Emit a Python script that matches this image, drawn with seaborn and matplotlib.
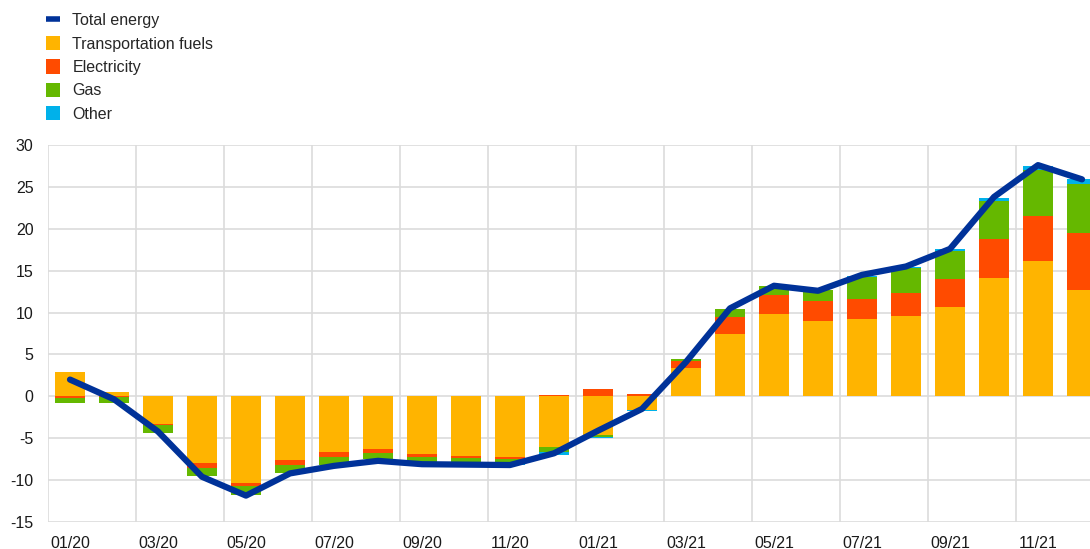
import numpy as np
import pandas as pd
import matplotlib
matplotlib.use("Agg")
import matplotlib.pyplot as plt
from matplotlib.patches import Patch
from matplotlib.lines import Line2D
import seaborn as sns

months = ["01/20", "02/20", "03/20", "04/20", "05/20", "06/20", "07/20", "08/20",
          "09/20", "10/20", "11/20", "12/20", "01/21", "02/21", "03/21", "04/21",
          "05/21", "06/21", "07/21", "08/21", "09/21", "10/21", "11/21", "12/21"]
transport = [2.9, 0.57, -3.3, -8.0, -10.3, -7.6, -6.6, -6.3, -6.9, -7.1, -7.3, -6.1,
             -4.6, -1.6, 3.35, 7.4, 9.8, 9.0, 9.2, 9.6, 10.7, 14.1, 16.1, 12.7]
electricity = [-0.2, -0.05, -0.15, -0.6, -0.45, -0.6, -0.65, -0.45, -0.3, -0.25, -0.2, 0.1,
               0.9, 0.25, 0.85, 2.1, 2.3, 2.4, 2.4, 2.75, 3.3, 4.65, 5.4, 6.85]
gas = [-0.6, -0.7, -0.9, -0.9, -1.0, -1.0, -0.95, -0.75, -0.6, -0.5, -0.4, -0.6,
       -0.3, 0.0, 0.2, 0.9, 1.1, 1.3, 2.7, 2.95, 3.35, 4.6, 5.5, 5.75]
other = [0.0, 0.0, 0.0, -0.05, 0.0, 0.0, 0.0, 0.0, 0.0, 0.0, -0.3, -0.25,
         -0.05, -0.15, 0.0, 0.0, 0.0, 0.0, 0.1, 0.15, 0.25, 0.35, 0.5, 0.6]
total = [2.0, -0.35, -4.2, -9.6, -11.85, -9.2, -8.3, -7.7, -8.1, -8.15, -8.2, -6.8,
         -4.1, -1.5, 4.1, 10.5, 13.2, 12.6, 14.5, 15.5, 17.6, 23.8, 27.6, 25.9]

series_names = ["Transportation fuels", "Electricity", "Gas", "Other"]
series_vals = [transport, electricity, gas, other]
colors = ["#FFB400", "#FF4B00", "#65B800", "#00B1EA"]
line_color = "#003299"

sns.set_theme(style="white")
plt.rcParams["font.family"] = ["Liberation Sans", "DejaVu Sans"]
plt.rcParams["axes.unicode_minus"] = False

fig = plt.figure(figsize=(10.9, 5.49), dpi=100)
ax = fig.add_axes([48 / 1090, 27 / 549, (1104 - 48) / 1090, (522 - 145) / 549])

x = np.arange(len(months))
pos_bottom = np.zeros(len(months))
neg_bottom = np.zeros(len(months))
for name, vals, c in zip(series_names, series_vals, colors):
    v = np.array(vals, dtype=float)
    b = np.where(v >= 0, pos_bottom, neg_bottom)
    ax.bar(x, v, bottom=b, width=0.66, color=c, linewidth=0, zorder=2)
    pos_bottom = pos_bottom + np.where(v >= 0, v, 0)
    neg_bottom = neg_bottom + np.where(v < 0, v, 0)

df = pd.DataFrame({"x": x, "total": total})
sns.lineplot(data=df, x="x", y="total", ax=ax, color=line_color, linewidth=4.5,
             solid_capstyle="round", zorder=3)

ax.set_xlim(-0.5, 23.5)
ax.set_ylim(-15, 30)
ax.set_yticks(np.arange(-15, 31, 5))
ax.set_xticks(x[::2])
ax.set_xticklabels(months[::2])
ax.set_xlabel("")
ax.set_ylabel("")
for s in ax.spines.values():
    s.set_visible(False)
ax.tick_params(axis="both", length=0, labelsize=11.5, colors="#1a1a1a")
ax.tick_params(axis="y", pad=10.5)
ax.tick_params(axis="x", pad=10)
grid_c = "#dcdcdc"
for yv in np.arange(-15, 31, 5):
    ax.axhline(yv, color=grid_c, linewidth=1.2, zorder=1)
for xv in np.arange(-0.5, 24, 2):
    ax.axvline(xv, color=grid_c, linewidth=1.2, zorder=1)

handles = [Line2D([0], [0], color=line_color, linewidth=4.0, solid_capstyle="butt")] + \
          [Patch(facecolor=c, edgecolor="none") for c in colors]
labels = ["Total energy"] + series_names
fig.legend(handles, labels, loc="upper left", bbox_to_anchor=(0.032, 0.997),
           frameon=False, fontsize=11.5, handlelength=0.9, handleheight=1.0,
           handletextpad=0.75, labelspacing=0.48, borderaxespad=0.3)

fig.savefig("out.png", dpi=100)
